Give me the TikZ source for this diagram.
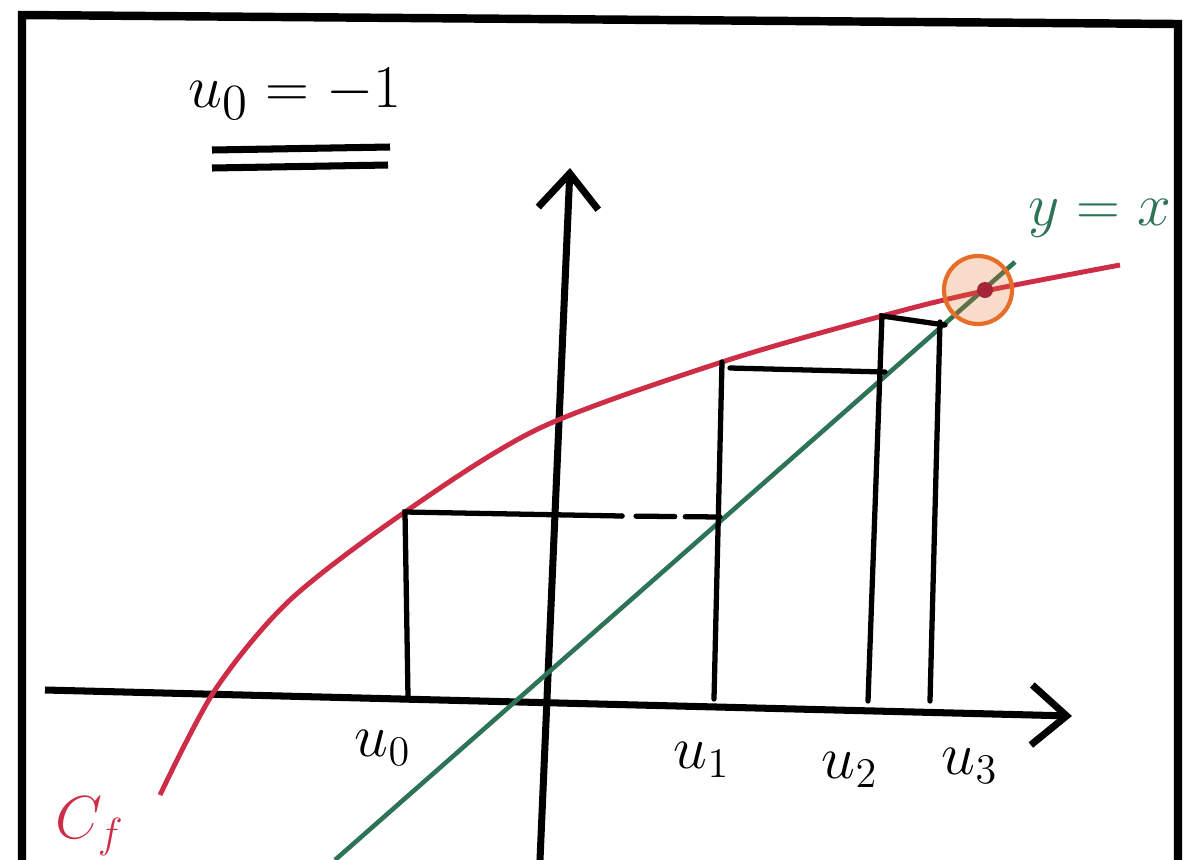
\documentclass[tikz,border=0pt]{standalone}
\usepackage{amsmath}
\usetikzlibrary{arrows.meta}
\definecolor{curvered}{RGB}{205,45,70}
\definecolor{linegreen}{RGB}{45,115,85}
\definecolor{ringorange}{RGB}{230,110,40}

\begin{document}
\begin{tikzpicture}[
    x=0.01cm, y=-0.01cm,
    frameline/.style={line width=2.4pt, line cap=round},
    axis/.style={line width=2pt, -{Straight Barb[length=3.5mm, width=6mm, line width=2pt]}},
    web/.style={line width=1.5pt, line cap=round},
    lbl/.style={font=\fontsize{17}{19}\selectfont, inner sep=1pt}
]
\useasboundingbox (0,0) rectangle (1184,860);

% Frame
\draw[frameline] (22,860) -- (22,15) -- (1178,24) -- (1178,860);

% Title
\node[font=\fontsize{19}{21}\selectfont] (title) at (295,94) {$u_0=-1$};
\draw[line width=2pt] (212,150) -- (390,147);
\draw[line width=2pt] (212,168) -- (388,165);

% Axes
\coordinate (xstart) at (45,690);
\coordinate (xend) at (1072,716);
\coordinate (ystart) at (540,860);
\coordinate (yend) at (570,168);
\draw[axis] (xstart) -- (xend);
\draw[axis] (ystart) -- (yend);

% Line y = x
\coordinate (gstart) at (335,860);
\coordinate (gend) at (1015,262);
\draw[linegreen, line width=1.3pt] (gstart) -- (gend);

% Curve C_f
\coordinate (c0) at (405,512);
\coordinate (c1) at (722,362);
\coordinate (c2) at (882,316);
\draw[curvered, line width=1.4pt] plot[smooth] coordinates
    {(160,795) (215,690) (290,600) (c0) (540,428) (c1) (c2) (975,293) (1120,265)};

% Cobweb
\coordinate (a0) at (408,697);
\coordinate (a1) at (714,699);
\coordinate (a2) at (868,701);
\coordinate (a3) at (930,701);
\coordinate (h0) at (622,516);
\coordinate (g0) at (720,517);
\coordinate (h1) at (730,368);
\coordinate (g1) at (885,372);
\coordinate (g2) at (945,325);
\coordinate (t3) at (940,322);
\draw[web] (a0) -- (c0) -- (h0);
\draw[web, dash pattern=on 0pt off 4pt on 11pt off 3pt on 12pt off 0pt] (h0) -- (g0);
\draw[web] (a1) -- (c1);
\draw[web] (h1) -- (g1);
\draw[web] (a2) -- (c2) -- (g2);
\draw[web] (a3) -- (t3);

% Fixed point
\filldraw[ringorange, fill opacity=0.25, line width=1.2pt] (978,290) circle (34);
\fill[curvered!80!black] (985,290) circle (8);

% Labels
\node[lbl] (u0) at (383,748) {$u_0$};
\node[lbl] (u1) at (702,760) {$u_1$};
\node[lbl] (u2) at (850,770) {$u_2$};
\node[lbl] (u3) at (970,766) {$u_3$};
\node[lbl, text=linegreen] (yx) at (1100,218) {$y=x$};
\node[lbl, text=curvered] (cf) at (90,826) {$C_f$};

\end{tikzpicture}
\end{document}
